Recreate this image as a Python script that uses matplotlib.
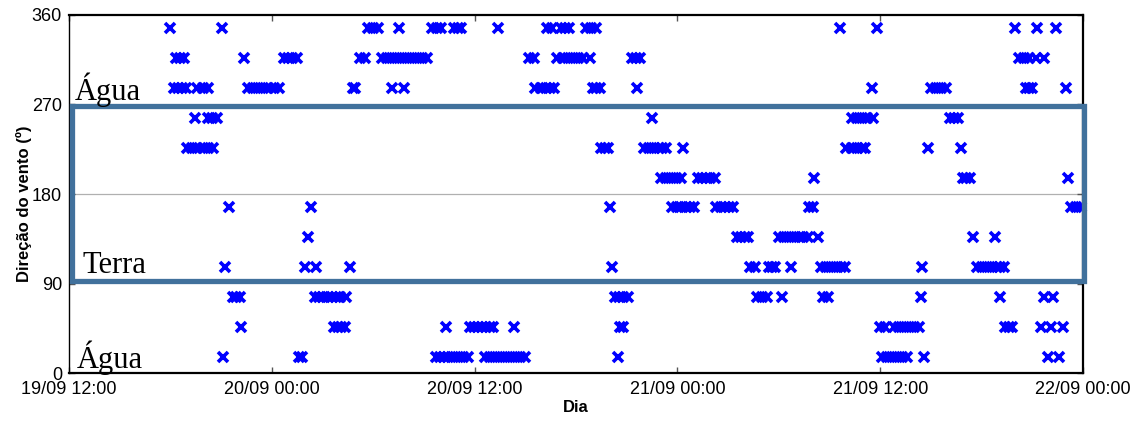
import matplotlib.pyplot as plt
from matplotlib.patches import Rectangle

# hours since 19/09 12:00 for each wind direction sector (degrees)
dir_345 = [5.98, 9.03, 17.7, 18.0, 18.3, 19.5, 21.5, 21.75, 22.0, 22.8, 23.0, 23.2,
           25.4, 28.3, 28.6, 29.1, 29.35, 29.6, 30.6, 30.9, 31.2, 45.6, 47.8,
           56.0, 57.3, 58.4]
dir_315 = [6.3, 6.55, 6.8, 10.35, 12.7, 12.95, 13.2, 13.5, 17.2, 17.5, 18.5, 18.8,
           19.1, 19.4, 19.7, 20.0, 20.3, 20.6, 20.9, 21.2, 27.2, 27.5, 28.9, 29.2,
           29.5, 29.8, 30.1, 30.4, 30.8, 33.3, 33.55, 33.8, 56.2, 56.5, 56.8, 57.2,
           57.7]
dir_285 = [6.2, 6.45, 6.7, 6.9, 7.6, 7.9, 8.2, 10.6, 10.9, 11.2, 11.5, 11.8, 12.1,
           12.4, 16.8, 16.95, 19.1, 19.8, 27.6, 27.9, 28.2, 28.45, 28.7, 31.0, 31.2,
           31.4, 33.6, 47.5, 51.0, 51.3, 51.6, 51.9, 56.6, 56.8, 57.0, 59.0]
dir_255 = [7.46, 8.2, 8.45, 8.75, 34.5, 46.3, 46.6, 46.9, 47.2, 47.6, 52.1, 52.35,
           52.6]
dir_225 = [7.0, 7.3, 7.6, 7.9, 8.2, 8.5, 31.5, 31.7, 31.9, 34.0, 34.3, 34.6, 34.9,
           35.1, 35.3, 36.3, 46.0, 46.3, 46.6, 46.9, 47.1, 50.8, 52.8]
dir_195 = [35.0, 35.3, 35.6, 35.9, 36.2, 37.2, 37.45, 37.7, 37.95, 38.2, 44.1,
           52.9, 53.1, 53.3, 59.1]
dir_165 = [9.49, 14.3, 32.0, 35.7, 35.95, 36.2, 36.5, 36.75, 37.0, 38.3, 38.55,
           38.8, 39.05, 39.3, 43.8, 44.0, 59.3, 59.6, 59.9]
dir_135 = [14.16, 39.5, 39.75, 40.0, 40.2, 42.0, 42.3, 42.6, 42.9, 43.2, 43.45,
           43.7, 44.3, 53.5, 54.8]
dir_105 = [9.23, 13.96, 14.6, 16.6, 32.1, 40.3, 40.6, 41.4, 41.6, 41.8, 42.7, 44.5,
           44.8, 45.1, 45.4, 45.65, 45.9, 50.5, 53.7, 54.0, 54.3, 54.6, 54.9, 55.1,
           55.3]
dir_75 = [9.7, 9.9, 10.1, 14.56, 14.8, 15.05, 15.3, 15.55, 15.8, 16.05, 16.4, 32.3,
          32.55, 32.8, 33.1, 40.7, 41.0, 41.3, 42.2, 44.6, 44.9, 50.4, 55.1, 57.7,
          58.2]
dir_45 = [10.2, 15.7, 15.9, 16.1, 16.3, 22.3, 23.7, 23.95, 24.2, 24.45, 24.7, 24.9,
          25.1, 26.3, 32.6, 32.8, 48.0, 48.3, 48.8, 49.1, 49.4, 49.7, 50.0, 50.3,
          55.4, 55.6, 55.8, 57.5, 58.1, 58.8]
dir_15 = [9.13, 13.6, 13.8, 21.7, 21.95, 22.2, 22.45, 22.7, 23.0, 23.3, 23.6, 24.6,
          24.9, 25.2, 25.5, 25.8, 26.1, 26.4, 26.7, 27.0, 32.5, 48.1, 48.4, 48.7,
          49.0, 49.3, 49.6, 50.6, 57.9, 58.6]

# directions
sectors = [346.5, 316.5, 286.5, 256.5, 226.5, 196.5,
           166.5, 136.5, 106.5, 76.5, 46.5, 16.5]
series = [dir_345, dir_315, dir_285, dir_255, dir_225, dir_195,
          dir_165, dir_135, dir_105, dir_75, dir_45, dir_15]

x_ticks = [0, 12, 24, 36, 48, 60]
x_labels = ["19/09 12:00", "20/09 00:00", "20/09 12:00",
            "21/09 00:00", "21/09 12:00", "22/09 00:00"]
y_ticks = [0, 90, 180, 270, 360]

plt.rcParams['font.family'] = ['Liberation Sans', 'DejaVu Sans']

fig = plt.figure(figsize=(11.41, 4.22), dpi=100)
ax = fig.add_axes([0.0605, 0.116, 0.8887, 0.8485])

ax.axhline(180, color='#b0b0b0', lw=0.9, zorder=1)

for deg, hours in zip(sectors, series):
    ax.plot(hours, [deg] * len(hours), linestyle='none', marker='x',
            ms=6.5, mew=2.6, color='#0000ff', clip_on=False, zorder=3)

ax.set_xlim(0, 60)
ax.set_ylim(0, 360)
ax.set_xticks(x_ticks)
ax.set_xticklabels(x_labels)
ax.set_yticks(y_ticks)
ax.tick_params(direction='in', length=4, width=1, color='#555555',
               top=True, right=True, labelsize=13, pad=5)
ax.tick_params(axis='x', pad=6)

for side in ['top', 'bottom', 'right']:
    ax.spines[side].set_linewidth(1.6)
ax.spines['left'].set_linewidth(1.0)

ax.set_xlabel("Dia", fontsize=12, fontweight='bold', labelpad=1)
ax.set_ylabel("Direção do vento (º)", fontsize=12, fontweight='bold')
ax.yaxis.set_label_coords(-0.037, 0.472)

# land / water annotation
ax.add_patch(Rectangle((0.2, 92.5), 59.86, 176, fill=False, edgecolor='#41719c',
                       lw=3.8, clip_on=False, zorder=4))
serif = dict(family='Liberation Serif', fontsize=22, va='baseline', zorder=5)
ax.text(0.36, 274.5, "Água", **serif)
ax.text(0.81, 100.6, "Terra", **serif)
ax.text(0.47, 5.0, "Água", **serif)

fig.savefig("out.png", dpi=100)
